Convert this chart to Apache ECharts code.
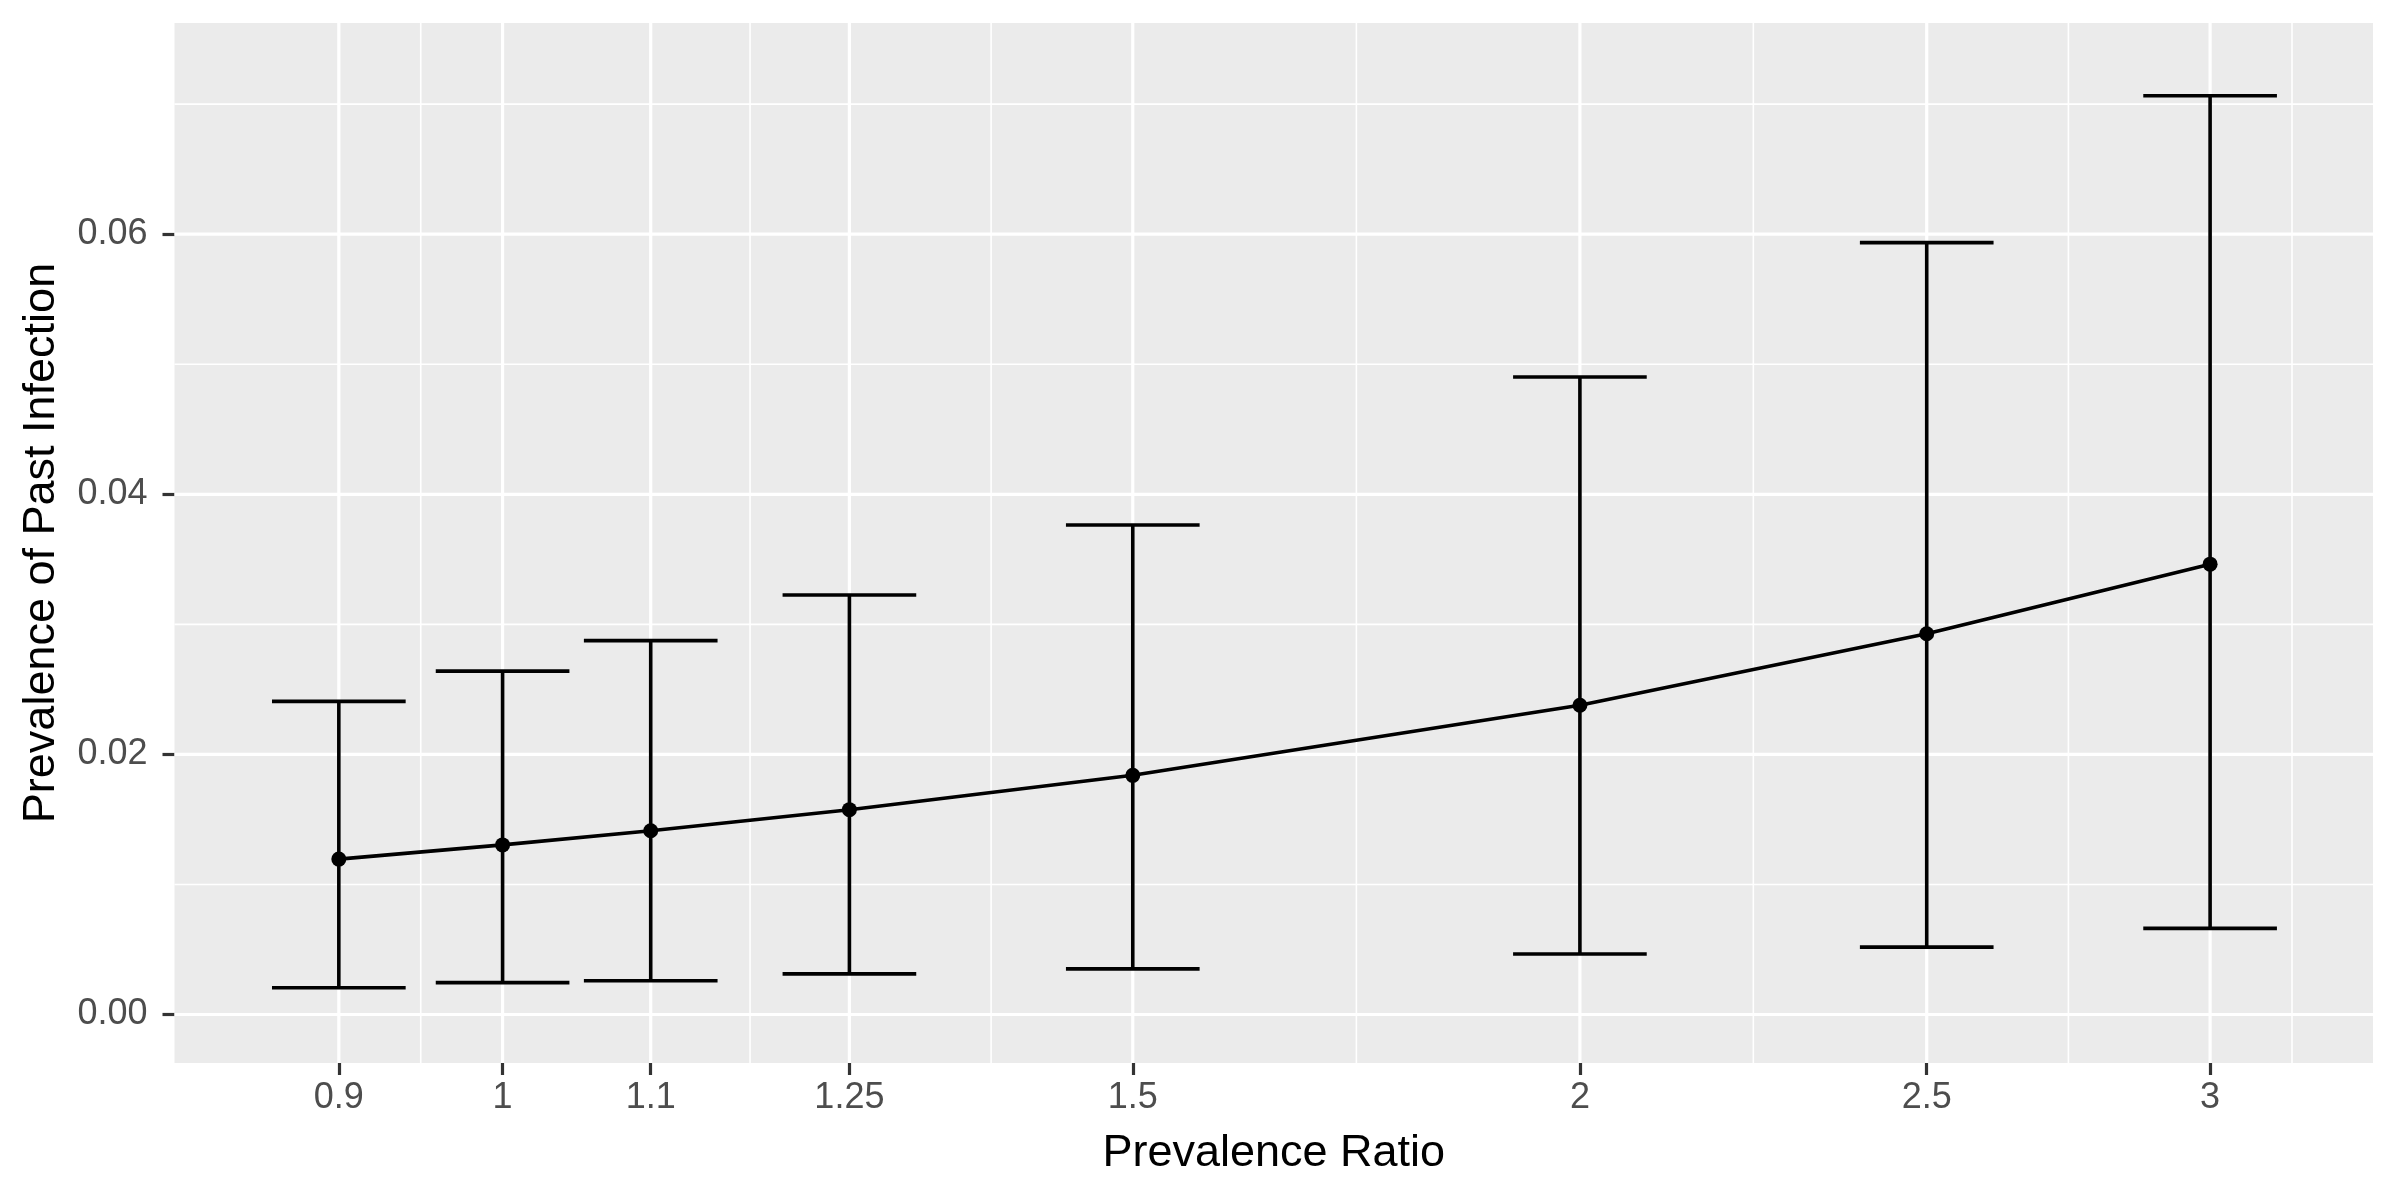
<!DOCTYPE html>
<html>
<head>
<meta charset="utf-8">
<script src="https://cdn.jsdelivr.net/npm/echarts@6/dist/echarts.min.js"></script>
<style>
  html, body { margin: 0; padding: 0; background: #ffffff; }
  #chart { width: 2400px; height: 1200px; }
</style>
</head>
<body>
<div id="chart"></div>
<script>
// ---- data ----
const ratios      = [0.9, 1, 1.1, 1.25, 1.5, 2, 2.5, 3];
const prevalence  = [0.01195, 0.01304, 0.01413, 0.01575, 0.01839, 0.02378, 0.02928, 0.03463];
const lowerCI     = [0.00206, 0.00245, 0.00259, 0.00312, 0.00351, 0.00465, 0.00518, 0.00662];
const upperCI     = [0.02408, 0.02640, 0.02875, 0.03226, 0.03764, 0.04902, 0.05935, 0.07065];
const xTickLabels = ['0.9', '1', '1.1', '1.25', '1.5', '2', '2.5', '3'];
const xMinorGrid  = [0.9487, 1.1726, 1.3693, 1.7321, 2.2361, 2.7386, 3.1623];
const yTicks      = [0, 0.02, 0.04, 0.06];
const yMinorGrid  = [0.01, 0.03, 0.05, 0.07];

// x scale is logarithmic (natural log space on a value axis)
const L = Math.log;
const X_MIN = L(0.8097), X_MAX = L(3.3315);
const Y_MIN = -0.00373, Y_MAX = 0.07624;
const CAP_HALF = 0.043; // half error-bar width in log units

const FONT = "'Liberation Sans', Arial, sans-serif";

function vLines(values, width) {
  return {
    type: 'custom', z: 1, silent: true, clip: true,
    data: values.map(v => [L(v), 0]),
    renderItem: (params, api) => {
      const x = api.value(0);
      const p1 = api.coord([x, Y_MIN]);
      const p2 = api.coord([x, Y_MAX]);
      return { type: 'line', shape: { x1: p1[0], y1: p1[1], x2: p2[0], y2: p2[1] },
               style: { stroke: '#ffffff', lineWidth: width } };
    }
  };
}
function hLines(values, width) {
  return {
    type: 'custom', z: 1, silent: true, clip: true,
    data: values.map(v => [X_MIN, v]),
    renderItem: (params, api) => {
      const y = api.value(1);
      const p1 = api.coord([X_MIN, y]);
      const p2 = api.coord([X_MAX, y]);
      return { type: 'line', shape: { x1: p1[0], y1: p1[1], x2: p2[0], y2: p2[1] },
               style: { stroke: '#ffffff', lineWidth: width } };
    }
  };
}

const chart = echarts.init(document.getElementById('chart'), null, { renderer: 'canvas' });

const option = {
  backgroundColor: '#ffffff',
  animation: false,
  grid: {
    left: 174.5, right: 27, top: 23, bottom: 137,
    show: true, backgroundColor: '#EBEBEB', borderWidth: 0
  },
  xAxis: {
    type: 'value', min: X_MIN, max: X_MAX,
    name: 'Prevalence Ratio', nameLocation: 'middle', nameGap: 68,
    nameTextStyle: { fontFamily: FONT, fontSize: 45, color: '#000000' },
    axisLine: { show: false, onZero: false },
    axisTick: { show: true, length: 12, customValues: ratios.map(L),
                lineStyle: { color: '#333333', width: 3.2 } },
    axisLabel: { customValues: ratios.map(L), margin: 17,
                 fontFamily: FONT, fontSize: 36, color: '#4D4D4D',
                 formatter: v => {
                   const i = ratios.findIndex(r => Math.abs(L(r) - v) < 1e-6);
                   return i >= 0 ? xTickLabels[i] : '';
                 } },
    splitLine: { show: false }
  },
  yAxis: {
    type: 'value', min: Y_MIN, max: Y_MAX,
    name: 'Prevalence of Past Infection', nameLocation: 'middle', nameGap: 110,
    nameTextStyle: { fontFamily: FONT, fontSize: 45, color: '#000000' },
    axisLine: { show: false, onZero: false },
    axisTick: { show: true, length: 12, customValues: yTicks,
                lineStyle: { color: '#333333', width: 3.2 } },
    axisLabel: { customValues: yTicks, margin: 27,
                 fontFamily: FONT, fontSize: 36, color: '#4D4D4D',
                 formatter: v => v.toFixed(2) },
    splitLine: { show: false }
  },
  series: [
    vLines(xMinorGrid, 1.6),
    hLines(yMinorGrid, 1.6),
    vLines(ratios, 3.2),
    hLines(yTicks, 3.2),
    {
      type: 'custom', z: 3, silent: true, clip: true,
      data: ratios.map((r, i) => [L(r), lowerCI[i], upperCI[i]]),
      renderItem: (params, api) => {
        const x = api.value(0), lo = api.value(1), hi = api.value(2);
        const top = api.coord([x, hi]);
        const bot = api.coord([x, lo]);
        const tl = api.coord([x - CAP_HALF, hi]);
        const tr = api.coord([x + CAP_HALF, hi]);
        const bl = api.coord([x - CAP_HALF, lo]);
        const br = api.coord([x + CAP_HALF, lo]);
        const st = { stroke: '#000000', lineWidth: 3.6 };
        return { type: 'group', children: [
          { type: 'line', shape: { x1: top[0], y1: top[1], x2: bot[0], y2: bot[1] }, style: st },
          { type: 'line', shape: { x1: tl[0], y1: tl[1], x2: tr[0], y2: tr[1] }, style: st },
          { type: 'line', shape: { x1: bl[0], y1: bl[1], x2: br[0], y2: br[1] }, style: st }
        ] };
      }
    },
    {
      type: 'line', z: 4, silent: true,
      data: ratios.map((r, i) => [L(r), prevalence[i]]),
      lineStyle: { color: '#000000', width: 3.6 },
      itemStyle: { color: '#000000' },
      symbol: 'circle', symbolSize: 15, showSymbol: true
    }
  ]
};
chart.setOption(option);
</script>
</body>
</html>
